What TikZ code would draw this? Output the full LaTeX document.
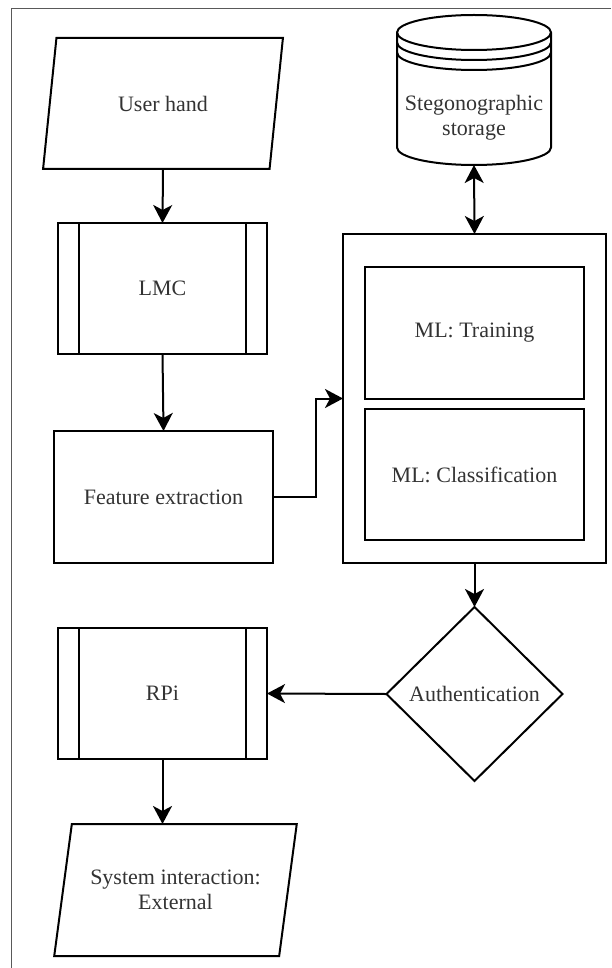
\documentclass[tikz,border=0pt]{standalone}
\usepackage{fontspec}
\setmainfont{Liberation Serif}
\usepackage{tikz}
\usetikzlibrary{shapes.geometric}
\usetikzlibrary{arrows.meta}

\begin{document}
\begin{tikzpicture}[x=1pt,y=-1pt,
  base/.style={draw,line width=2pt,inner sep=0pt,outer sep=0pt,align=center,
    text=black!80,font=\fontsize{22}{25}\selectfont},
  proc/.style={base,rectangle,minimum width=209pt,minimum height=131pt},
  io/.style={base,trapezium,trapezium left angle=70,trapezium right angle=110,
    trapezium stretches=true,minimum width=240pt,minimum height=131pt},
  arr/.style={line width=2pt,-{Stealth[length=18pt,width=19pt,inset=5pt]}},
  dblarr/.style={line width=2pt,{Stealth[length=18pt,width=19pt,inset=5pt]}-{Stealth[length=18pt,width=19pt,inset=5pt]}}]
 \useasboundingbox (0,0) rectangle (611,968);
 \draw[gray!70!black,line width=1pt] (11,968) |- (611,9);

 % left column
 \node[io] (hand) at (163,103.5) {User hand};
 \node[proc] (lmc) at (162.5,288.5) {LMC};
 \draw[line width=2pt] ([xshift=21pt]lmc.north west) -- ([xshift=21pt]lmc.south west);
 \draw[line width=2pt] ([xshift=-21pt]lmc.north east) -- ([xshift=-21pt]lmc.south east);
 \node[base,minimum width=219pt,minimum height=132pt] (feat) at (163.5,497) {Feature extraction};

 % storage
 \draw[line width=2pt] (397,32.5) arc (180:0:77pt and 17.5pt) -- (551,147.5) arc (0:-180:77pt and 17.5pt) -- cycle;
 \draw[line width=2pt] (397,32.5) arc (180:360:77pt and 17.5pt);
 \draw[line width=2pt] (397,42.5) arc (180:360:77pt and 17.5pt);
 \draw[line width=2pt] (397,52.5) arc (180:360:77pt and 17.5pt);
 \node[align=center,text=black!80,font=\fontsize{22}{25}\selectfont] (store) at (474,118) {Stegonographic\\storage};
 \coordinate (storebot) at (474,165);

 % ML block
 \node[base,minimum width=263pt,minimum height=329pt] (ml) at (474.5,398.5) {};
 \node[base,minimum width=219pt,minimum height=132pt] (train) at (474.5,333) {ML: Training};
 \node[base,minimum width=219pt,minimum height=131pt] (classif) at (474.5,474.5) {ML: Classification};

 % bottom
 \node[base,diamond,minimum width=176pt,minimum height=174pt] (auth) at (474.5,694) {Authentication};
 \node[proc] (rpi) at (162.5,693.5) {RPi};
 \draw[line width=2pt] ([xshift=21pt]rpi.north west) -- ([xshift=21pt]rpi.south west);
 \draw[line width=2pt] ([xshift=-21pt]rpi.north east) -- ([xshift=-21pt]rpi.south east);
 \node[io,minimum width=243pt,minimum height=132pt] (sysint) at (175.5,890) {System interaction:\\External};

 % arrows
 \draw[arr] (hand.south) -- (lmc.north);
 \draw[arr] (lmc.south) -- (feat.north);
 \draw[arr] (feat.east) -- ++(43,0) |- (ml.west);
 \draw[dblarr] (storebot) -- (ml.north);
 \draw[arr] (ml.south) -- (auth.north);
 \draw[arr] (auth.west) -- (rpi.east);
 \draw[arr] (rpi.south) -- (rpi.south |- sysint.north);
\end{tikzpicture}
\end{document}
